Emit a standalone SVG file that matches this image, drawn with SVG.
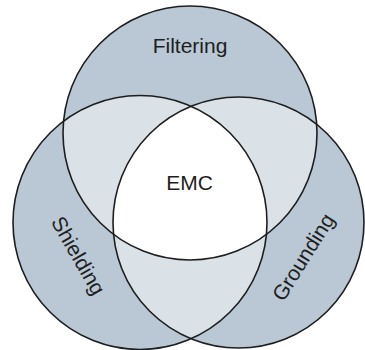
<svg xmlns="http://www.w3.org/2000/svg" width="365" height="350" viewBox="0 0 365 350">
<style>
.outer{fill:#b9c8d4}
.pair{fill:#dbe2e7}
.core{fill:#ffffff}
.ring{fill:none;stroke:#1e1e1e;stroke-width:1.6}
.lbl{font-family:"Liberation Sans",Arial,sans-serif;font-size:21px;fill:#1e1e1e;text-anchor:middle}
</style>
<defs>
<clipPath id="clipT"><circle cx="190" cy="133" r="127"/></clipPath>
<clipPath id="clipL"><circle cx="140" cy="222.5" r="127"/></clipPath>
<clipPath id="clipR"><circle cx="238.5" cy="222.5" r="125.5"/></clipPath>
</defs>
<rect width="365" height="350" fill="#ffffff"/>
<g id="fills">
<circle class="outer" cx="190" cy="133" r="127"/>
<circle class="outer" cx="140" cy="222.5" r="127"/>
<circle class="outer" cx="238.5" cy="222.5" r="125.5"/>
<g clip-path="url(#clipT)"><circle class="pair" cx="140" cy="222.5" r="127"/><circle class="pair" cx="238.5" cy="222.5" r="125.5"/></g>
<g clip-path="url(#clipL)"><circle class="pair" cx="238.5" cy="222.5" r="125.5"/></g>
<g clip-path="url(#clipT)"><g clip-path="url(#clipL)"><circle class="core" cx="238.5" cy="222.5" r="125.5"/></g></g>
</g>
<g id="filtering"><circle class="ring" cx="190" cy="133" r="127"/><text class="lbl" x="190" y="53">Filtering</text></g>
<g id="shielding"><circle class="ring" cx="140" cy="222.5" r="127"/><text class="lbl" transform="translate(78.5,255.5) rotate(60)" x="0" y="7.5">Shielding</text></g>
<g id="grounding"><circle class="ring" cx="238.5" cy="222.5" r="125.5"/><text class="lbl" transform="translate(303,257) rotate(-58)" x="0" y="7.5">Grounding</text></g>
<g id="emc"><text class="lbl" x="189.5" y="190">EMC</text></g>
</svg>
